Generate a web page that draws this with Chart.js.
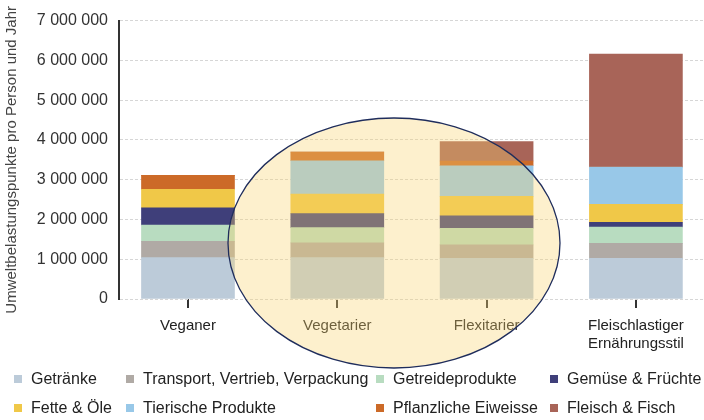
<!DOCTYPE html>
<html>
<head>
<meta charset="utf-8">
<script src="https://cdn.jsdelivr.net/npm/chart.js@4.4.1/dist/chart.umd.min.js"></script>
<style>
  html, body { margin: 0; padding: 0; background: #fff; }
  #wrap { position: relative; width: 704px; height: 420px; }
  #legend { position: absolute; left: 0; top: 0; width: 704px; height: 420px; pointer-events: none;
    font: 16px "Liberation Sans", Arial, sans-serif; color: #222; }
  .item { position: absolute; white-space: nowrap; line-height: 20px; height: 20px; }
  .item i { position: absolute; left: -17px; top: 6px; width: 8px; height: 8px; }
</style>
</head>
<body>
<div id="wrap">
  <canvas id="chart" width="704" height="420"></canvas>
  <div id="legend"></div>
</div>
<script>
/* Umweltbelastung nach Ernährungsstil */

const CATEGORIES = ['Veganer', 'Vegetarier', 'Flexitarier', ['Fleischlastiger', 'Ernährungsstil']];

const GETRAENKE   = [1040000, 1040000, 1020000, 1020000];
const TRANSPORT   = [ 410000,  370000,  340000,  380000];
const GETREIDE    = [ 410000,  385000,  420000,  410000];
const GEMUESE     = [ 430000,  350000,  310000,  120000];
const FETTE       = [ 470000,  490000,  490000,  450000];
const TIERISCH    = [      0,  840000,  770000,  940000];
const PFLANZLICH  = [ 350000,  220000,  120000,       0];
const FLEISCH     = [      0,       0,  490000, 2840000];

const Y_TICKS = [0, 1000000, 2000000, 3000000, 4000000, 5000000, 6000000, 7000000];

const SERIES = [
  { label: 'Getränke',                        data: GETRAENKE,  color: '#bccbd9' },
  { label: 'Transport, Vertrieb, Verpackung', data: TRANSPORT,  color: '#b0aaa5' },
  { label: 'Getreideprodukte',                data: GETREIDE,   color: '#b8dcc0' },
  { label: 'Gemüse & Früchte',                data: GEMUESE,    color: '#3f3f7a' },
  { label: 'Fette & Öle',                     data: FETTE,      color: '#f0c848' },
  { label: 'Tierische Produkte',              data: TIERISCH,   color: '#98c8e8' },
  { label: 'Pflanzliche Eiweisse',            data: PFLANZLICH, color: '#cc6a28' },
  { label: 'Fleisch & Fisch',                 data: FLEISCH,    color: '#a86458' },
];

const FONT = '"Liberation Sans", Arial, sans-serif';
const fmt = v => String(v).replace(/\B(?=(\d{3})+(?!\d))/g, ' ');

// gelbe Ellipse über Vegetarier / Flexitarier
const ellipsePlugin = {
  id: 'ellipse',
  afterDraw(chart) {
    const { ctx } = chart;
    ctx.save();
    ctx.beginPath();
    ctx.ellipse(394, 243, 166, 125, 0, 0, Math.PI * 2);
    ctx.fillStyle = 'rgba(249,212,112,0.35)';
    ctx.fill();
    ctx.lineWidth = 1.3;
    ctx.strokeStyle = '#1f2d5c';
    ctx.stroke();
    ctx.restore();
  },
};

new Chart(document.getElementById('chart'), {
  type: 'bar',
  data: {
    datasets: SERIES.map(s => ({
      label: s.label,
      data: s.data.map((v, i) => ({ x: i, y: v })),
      backgroundColor: s.color,
      borderWidth: 0,
      barThickness: 93,
    })),
  },
  options: {
    responsive: false,
    animation: false,
    layout: { padding: { top: 13, right: 0, left: 0, bottom: 0 } },
    plugins: { legend: { display: false }, tooltip: { enabled: false } },
    scales: {
      x: {
        type: 'linear',
        stacked: true,
        offset: false,
        min: -0.462,
        max: 3.456,
        afterBuildTicks: sc => { sc.ticks = CATEGORIES.map((_, i) => ({ value: i })); },
        afterFit: sc => { sc.height = 121; },
        ticks: {
          callback: v => CATEGORIES[v],
          color: '#222',
          font: { family: FONT, size: 15 },
          padding: 9,
          maxRotation: 0,
          autoSkip: false,
        },
        grid: { offset: false, drawOnChartArea: false, tickLength: 9, tickColor: '#333', lineWidth: 2 },
        border: { display: false },
      },
      y: {
        stacked: true,
        min: 0,
        max: 7000000,
        afterBuildTicks: sc => { sc.ticks = Y_TICKS.map(v => ({ value: v })); },
        afterFit: sc => { sc.width = 119; },
        ticks: {
          callback: v => fmt(v),
          color: '#333',
          font: { family: FONT, size: 16 },
          padding: 11,
        },
        grid: { color: '#d6d6d6', drawTicks: false, lineWidth: 1 },
        border: { color: '#333', width: 2, dash: [3, 2] },
        title: {
          display: true,
          text: 'Umweltbelastungspunkte pro Person und Jahr',
          color: '#444',
          font: { family: FONT, size: 15 },
          padding: { top: 3, bottom: 0 },
        },
      },
    },
  },
  plugins: [ellipsePlugin],
});

// Legende in 4 Spalten (x = Textanfang)
const COL_X = [31, 143, 393, 567];
const ROW_Y = [369, 398];
const legend = document.getElementById('legend');
SERIES.forEach((s, i) => {
  const el = document.createElement('div');
  el.className = 'item';
  el.style.left = COL_X[i % 4] + 'px';
  el.style.top = ROW_Y[Math.floor(i / 4)] + 'px';
  el.innerHTML = `<i style="background:${s.color}"></i>${s.label}`;
  legend.appendChild(el);
});
</script>
</body>
</html>
